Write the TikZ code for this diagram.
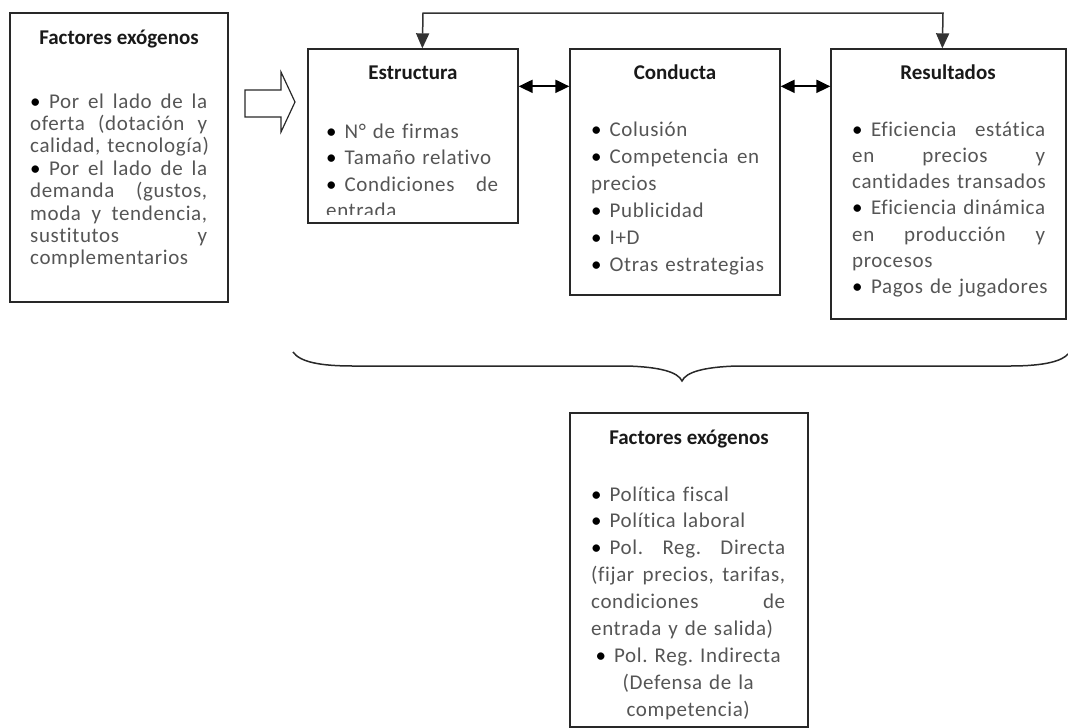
\documentclass[tikz,border=0pt]{standalone}
\usepackage{fontspec}
\setmainfont{Carlito}[LetterSpace=3,Ligatures=NoCommon,BoldFeatures={LetterSpace=0}]
\usetikzlibrary{arrows.meta,calc}
\definecolor{txt}{RGB}{85,85,85}
\definecolor{ttl}{RGB}{25,25,25}
\definecolor{edge}{RGB}{40,40,40}
\frenchspacing
\newlength\jw
\newcommand\bl{{\color{black}•}}
\newcommand\bsp{\hspace{0.4em}}
\newcommand\jlin[1]{\leavevmode\hbox to \jw{#1}}
\newcommand\clin[1]{\leavevmode\hbox to \jw{\hfil #1\hfil}}
\newcommand\llin[1]{\leavevmode\hbox to \jw{#1\hfil}}
\newcommand\bodyfont[1]{\fontsize{21}{#1}\selectfont\frenchspacing}
\begin{document}
\begin{tikzpicture}[x=1pt,y=-1pt,
  box/.style={draw=edge,line width=1.3pt,rectangle,inner sep=0pt},
  ttlstyle/.style={font=\fontsize{21}{25}\selectfont\bfseries\frenchspacing,text=ttl,inner sep=0pt,anchor=base},
  body/.style={text=txt,inner sep=0pt,anchor=base west,align=left,text width=300pt},
  dblarrow/.style={draw=black,line width=2pt,{Triangle[length=14pt,width=13pt]}-{Triangle[length=14pt,width=13pt]}},
  fbline/.style={draw=black!80,line width=1.5pt,{Triangle[length=15pt,width=13pt]}-{Triangle[length=15pt,width=13pt]}},
  bracestyle/.style={draw=edge,line width=1.5pt}]
\useasboundingbox (0,0) rectangle (1068,728);

% left box
\node[box,minimum width=218pt,minimum height=289pt] (lf) at (119,157.5) {};
\node[ttlstyle] (lft) at (119,44) {Factores exógenos};
\node[body,font=\bodyfont{22.4}] (lfb) at (30,108)
 {\setlength\jw{177pt}\jlin{\bl\bsp Por\hfill el\hfill lado\hfill de\hfill la}\\ \jlin{oferta\hfill (dotación\hfill y}\\ \llin{calidad, tecnología)}\\ \jlin{\bl\bsp Por\hfill el\hfill lado\hfill de\hfill la}\\ \jlin{demanda\hfill (gustos,}\\ \jlin{moda\hfill y\hfill tendencia,}\\ \jlin{sustitutos\hfill y}\\ \llin{complementarios}};

% hollow arrow
\draw[draw=edge,line width=1.2pt,fill=white] (245,90) -- (281,90) -- (281,72) -- (295,102) -- (281,132) -- (281,117) -- (245,117) -- cycle;

% Estructura
\node[box,minimum width=210pt,minimum height=174pt] (estr) at (413,136) {};
\node[ttlstyle] (estrt) at (413,79) {Estructura};
\begin{scope}
\clip (308,50) rectangle (518,214);
\node[body,font=\bodyfont{26.6}] (estrb) at (326,138)
 {\setlength\jw{172pt}\llin{\bl\hspace{8pt}N° de firmas}\\ \llin{\bl\hspace{8pt}Tamaño relativo}\\ \jlin{\bl\hspace{8pt}Condiciones\hfill de}\\ \llin{entrada}};
\end{scope}

% Conducta
\node[box,minimum width=210pt,minimum height=246pt] (cond) at (675,172) {};
\node[ttlstyle] (condt) at (675,79) {Conducta};
\node[body,font=\bodyfont{27}] (condb) at (591,136)
 {\setlength\jw{168pt}\llin{\bl\hspace{8pt}Colusión}\\ \jlin{\bl\hspace{8pt}Competencia\hfill en}\\ \llin{precios}\\ \llin{\bl\hspace{8pt}Publicidad}\\ \llin{\bl\hspace{8pt}I+D}\\ \llin{\bl\hspace{8pt}Otras estrategias}};

% Resultados
\node[box,minimum width=235pt,minimum height=270pt] (res) at (948.5,184) {};
\node[ttlstyle] (rest) at (948,79) {Resultados};
\node[body,font=\bodyfont{26.3}] (resb) at (852,136)
 {\setlength\jw{193pt}\jlin{\bl\bsp Eficiencia\hfill estática}\\ \jlin{en\hfill precios\hfill y}\\ \llin{cantidades transados}\\ \jlin{\bl\bsp Eficiencia\hfill dinámica}\\ \jlin{en\hfill producción\hfill y}\\ \llin{procesos}\\ \llin{\bl\bsp Pagos de jugadores}};

% connectors
\draw[dblarrow] ([yshift=-38pt]estr.north east) -- ([yshift=-38pt]cond.north west);
\draw[dblarrow] ([yshift=-38pt]cond.north east) -- ([yshift=-38pt]res.north west);
\coordinate (fbL) at (423,13);
\coordinate (fbR) at (943,13);
\draw[fbline] ([xshift=115pt]estr.north west) -- (fbL) -- (fbR) -- ([xshift=112pt]res.north west);

% brace
\draw[bracestyle] (293,352) .. controls (300,362) and (320,366) .. (353,366) -- (627,366)
  .. controls (660,367) and (678,372) .. (682,381)
  .. controls (686,372) and (704,367) .. (737,366) -- (1010,366)
  .. controls (1045,366) and (1062,361) .. (1068,354);

% bottom box
\node[box,minimum width=238pt,minimum height=314pt] (bot) at (689,570) {};
\node[ttlstyle] (bott) at (689,444) {Factores exógenos};
\node[body,font=\bodyfont{26.9}] (botb) at (591,501)
 {\setlength\jw{194pt}\llin{\bl\hspace{8pt}Política fiscal}\\ \llin{\bl\hspace{8pt}Política laboral}\\ \jlin{\bl\hspace{8pt}Pol.\hfill Reg.\hfill Directa}\\ \jlin{(fijar\hfill precios,\hfill tarifas,}\\ \jlin{condiciones\hfill de}\\ \llin{entrada y de salida)}\\ \clin{\bl\hspace{8pt}Pol. Reg. Indirecta}\\ \clin{(Defensa de la}\\ \clin{competencia)}};
\end{tikzpicture}
\end{document}
